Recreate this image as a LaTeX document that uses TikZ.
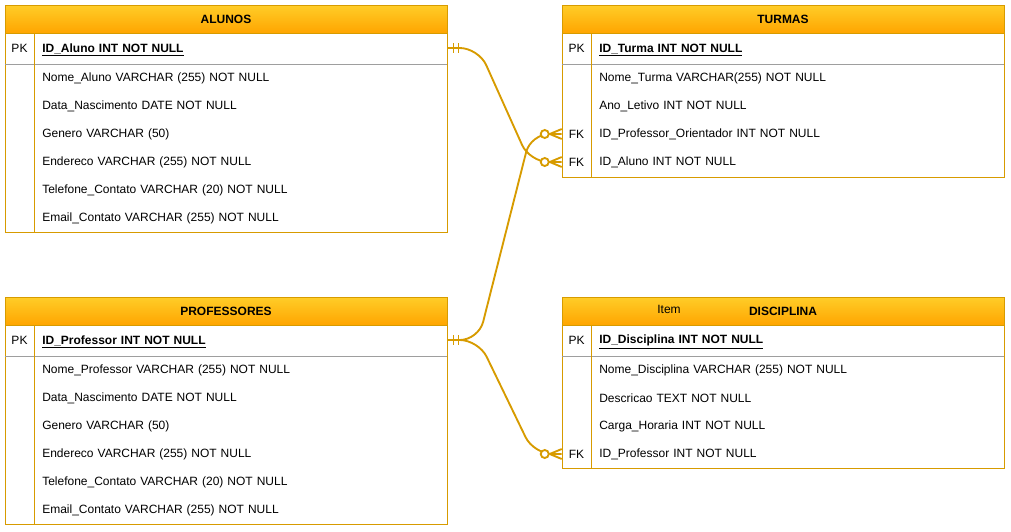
\documentclass[tikz,border=0pt]{standalone}
\usepackage{fontspec}
\setmainfont{Liberation Sans}
\usepackage{tikz}
\usetikzlibrary{calc}

\definecolor{erborder}{HTML}{D79B00}
\definecolor{hdrtop}{HTML}{FFCD28}
\definecolor{hdrbot}{HTML}{FFA500}
\definecolor{sepgrey}{HTML}{9E9E9E}

% ER markers (drawn at the border of a row node)
\newcommand{\mandone}[1]{%
  \draw[relline,shift={(#1.east)}] (6,-5) -- (6,5) (11,-5) -- (11,5);}
\newcommand{\zeromany}[1]{%
  \draw[relline,shift={(#1.west)}] (-12,0) -- (0,-5) (-12,0) -- (0,5);
  \draw[relline,fill=white,shift={(#1.west)}] (-17,0) circle[radius=3pt];}

\begin{document}
\begin{tikzpicture}[x=0.75pt,y=-0.75pt,
  every node/.style={font=\fontsize{9pt}{11pt}\selectfont},
  hdr/.style={draw=erborder,top color=hdrtop,bottom color=hdrbot,minimum width=331.5pt,minimum height=21pt,inner sep=0pt,font=\fontsize{9pt}{11pt}\selectfont\bfseries},
  field/.style={anchor=west,inner ysep=0pt,inner xsep=6pt,text width=297.75pt,align=left,minimum height=21pt},
  pkfield/.style={field,minimum height=23.25pt,font=\fontsize{9pt}{11pt}\selectfont\bfseries},
  keycol/.style={inner sep=0pt,minimum width=21.75pt,minimum height=21pt},
  tblline/.style={draw=erborder,line width=0.75pt},
  sepline/.style={draw=sepgrey,line width=0.75pt},
  relline/.style={draw=erborder,line width=1.4pt}]
  \useasboundingbox (0,0) rectangle (1011,532);

  % ALUNOS
  \draw[tblline] (5,5) rectangle (447,232);
  \draw[sepline] (5,64) -- (447,64);
  \draw[tblline] (34,33) -- (34,232);
  \node[hdr] (alunos) at (226,19) {ALUNOS};
  \node[keycol] (aluno-pk) at (19.5,48) {PK};
  \node[pkfield] (aluno-id) at (34,50) {\underline{ID\_Aluno INT NOT NULL}};
  \node[field] (aluno-nome) at (34,78) {Nome\_Aluno VARCHAR (255) NOT NULL};
  \node[field] (aluno-data) at (34,106) {Data\_Nascimento DATE NOT NULL};
  \node[field] (aluno-genero) at (34,134) {Genero VARCHAR (50)};
  \node[field] (aluno-end) at (34,162) {Endereco VARCHAR (255) NOT NULL};
  \node[field] (aluno-tel) at (34,190) {Telefone\_Contato VARCHAR (20) NOT NULL};
  \node[field] (aluno-email) at (34,218) {Email\_Contato VARCHAR (255) NOT NULL};

  % TURMAS
  \draw[tblline] (562,5) rectangle (1004,177);
  \draw[sepline] (562,64) -- (1004,64);
  \draw[tblline] (591,33) -- (591,177);
  \node[hdr] (turmas) at (783,19) {TURMAS};
  \node[keycol] (turma-pk) at (576.5,48) {PK};
  \node[pkfield] (turma-id) at (591,50) {\underline{ID\_Turma INT NOT NULL}};
  \node[field] (turma-nome) at (591,78) {Nome\_Turma VARCHAR(255) NOT NULL};
  \node[field] (turma-ano) at (591,106) {Ano\_Letivo INT NOT NULL};
  \node[keycol] (turma-fk1) at (576.5,134) {FK};
  \node[field] (turma-prof) at (591,134) {ID\_Professor\_Orientador INT NOT NULL};
  \node[keycol] (turma-fk2) at (576.5,162) {FK};
  \node[field] (turma-aluno) at (591,162) {ID\_Aluno INT NOT NULL};

  % PROFESSORES
  \draw[tblline] (5,297) rectangle (447,524);
  \draw[sepline] (5,356) -- (447,356);
  \draw[tblline] (34,325) -- (34,524);
  \node[hdr] (professores) at (226,311) {PROFESSORES};
  \node[keycol] (prof-pk) at (19.5,340) {PK};
  \node[pkfield] (prof-id) at (34,342) {\underline{ID\_Professor INT NOT NULL}};
  \node[field] (prof-nome) at (34,370) {Nome\_Professor VARCHAR (255) NOT NULL};
  \node[field] (prof-data) at (34,398) {Data\_Nascimento DATE NOT NULL};
  \node[field] (prof-genero) at (34,426) {Genero VARCHAR (50)};
  \node[field] (prof-end) at (34,454) {Endereco VARCHAR (255) NOT NULL};
  \node[field] (prof-tel) at (34,482) {Telefone\_Contato VARCHAR (20) NOT NULL};
  \node[field] (prof-email) at (34,510) {Email\_Contato VARCHAR (255) NOT NULL};

  % DISCIPLINA
  \draw[tblline] (562,297) rectangle (1004,468);
  \draw[sepline] (562,356) -- (1004,356);
  \draw[tblline] (591,325) -- (591,468);
  \node[hdr] (disciplina) at (783,311) {DISCIPLINA};
  \node[inner sep=0pt] (disc-item) at (669,309) {Item};
  \node[keycol] (disc-pk) at (576.5,340) {PK};
  \node[pkfield] (disc-id) at (591,342) {\underline{ID\_Disciplina INT NOT NULL}};
  \node[field] (disc-nome) at (591,370) {Nome\_Disciplina VARCHAR (255) NOT NULL};
  \node[field] (disc-desc) at (591,398) {Descricao TEXT NOT NULL};
  \node[field] (disc-carga) at (591,426) {Carga\_Horaria INT NOT NULL};
  \node[keycol] (disc-fk) at (576.5,454) {FK};
  \node[field] (disc-prof) at (591,454) {ID\_Professor INT NOT NULL};

  % relationships
  \draw[relline,rounded corners=14pt] (aluno-pk.center -| aluno-id.east) -- ++(31,0)
    -- ($(turma-fk2.west)+(-32,0)$) -- (turma-fk2.west);
  \draw[relline,rounded corners=14pt] (prof-pk.center -| prof-id.east) -- ++(31,0)
    -- ($(turma-fk1.west)+(-31,0)$) -- (turma-fk1.west);
  \draw[relline,rounded corners=14pt] (prof-pk.center -| prof-id.east) -- ++(31,0)
    -- ($(disc-fk.west)+(-28,0)$) -- (disc-fk.west);
  \mandone{aluno-pk.center -| aluno-id}
  \mandone{prof-pk.center -| prof-id}
  \zeromany{turma-fk2}
  \zeromany{turma-fk1}
  \zeromany{disc-fk}
\end{tikzpicture}
\end{document}
